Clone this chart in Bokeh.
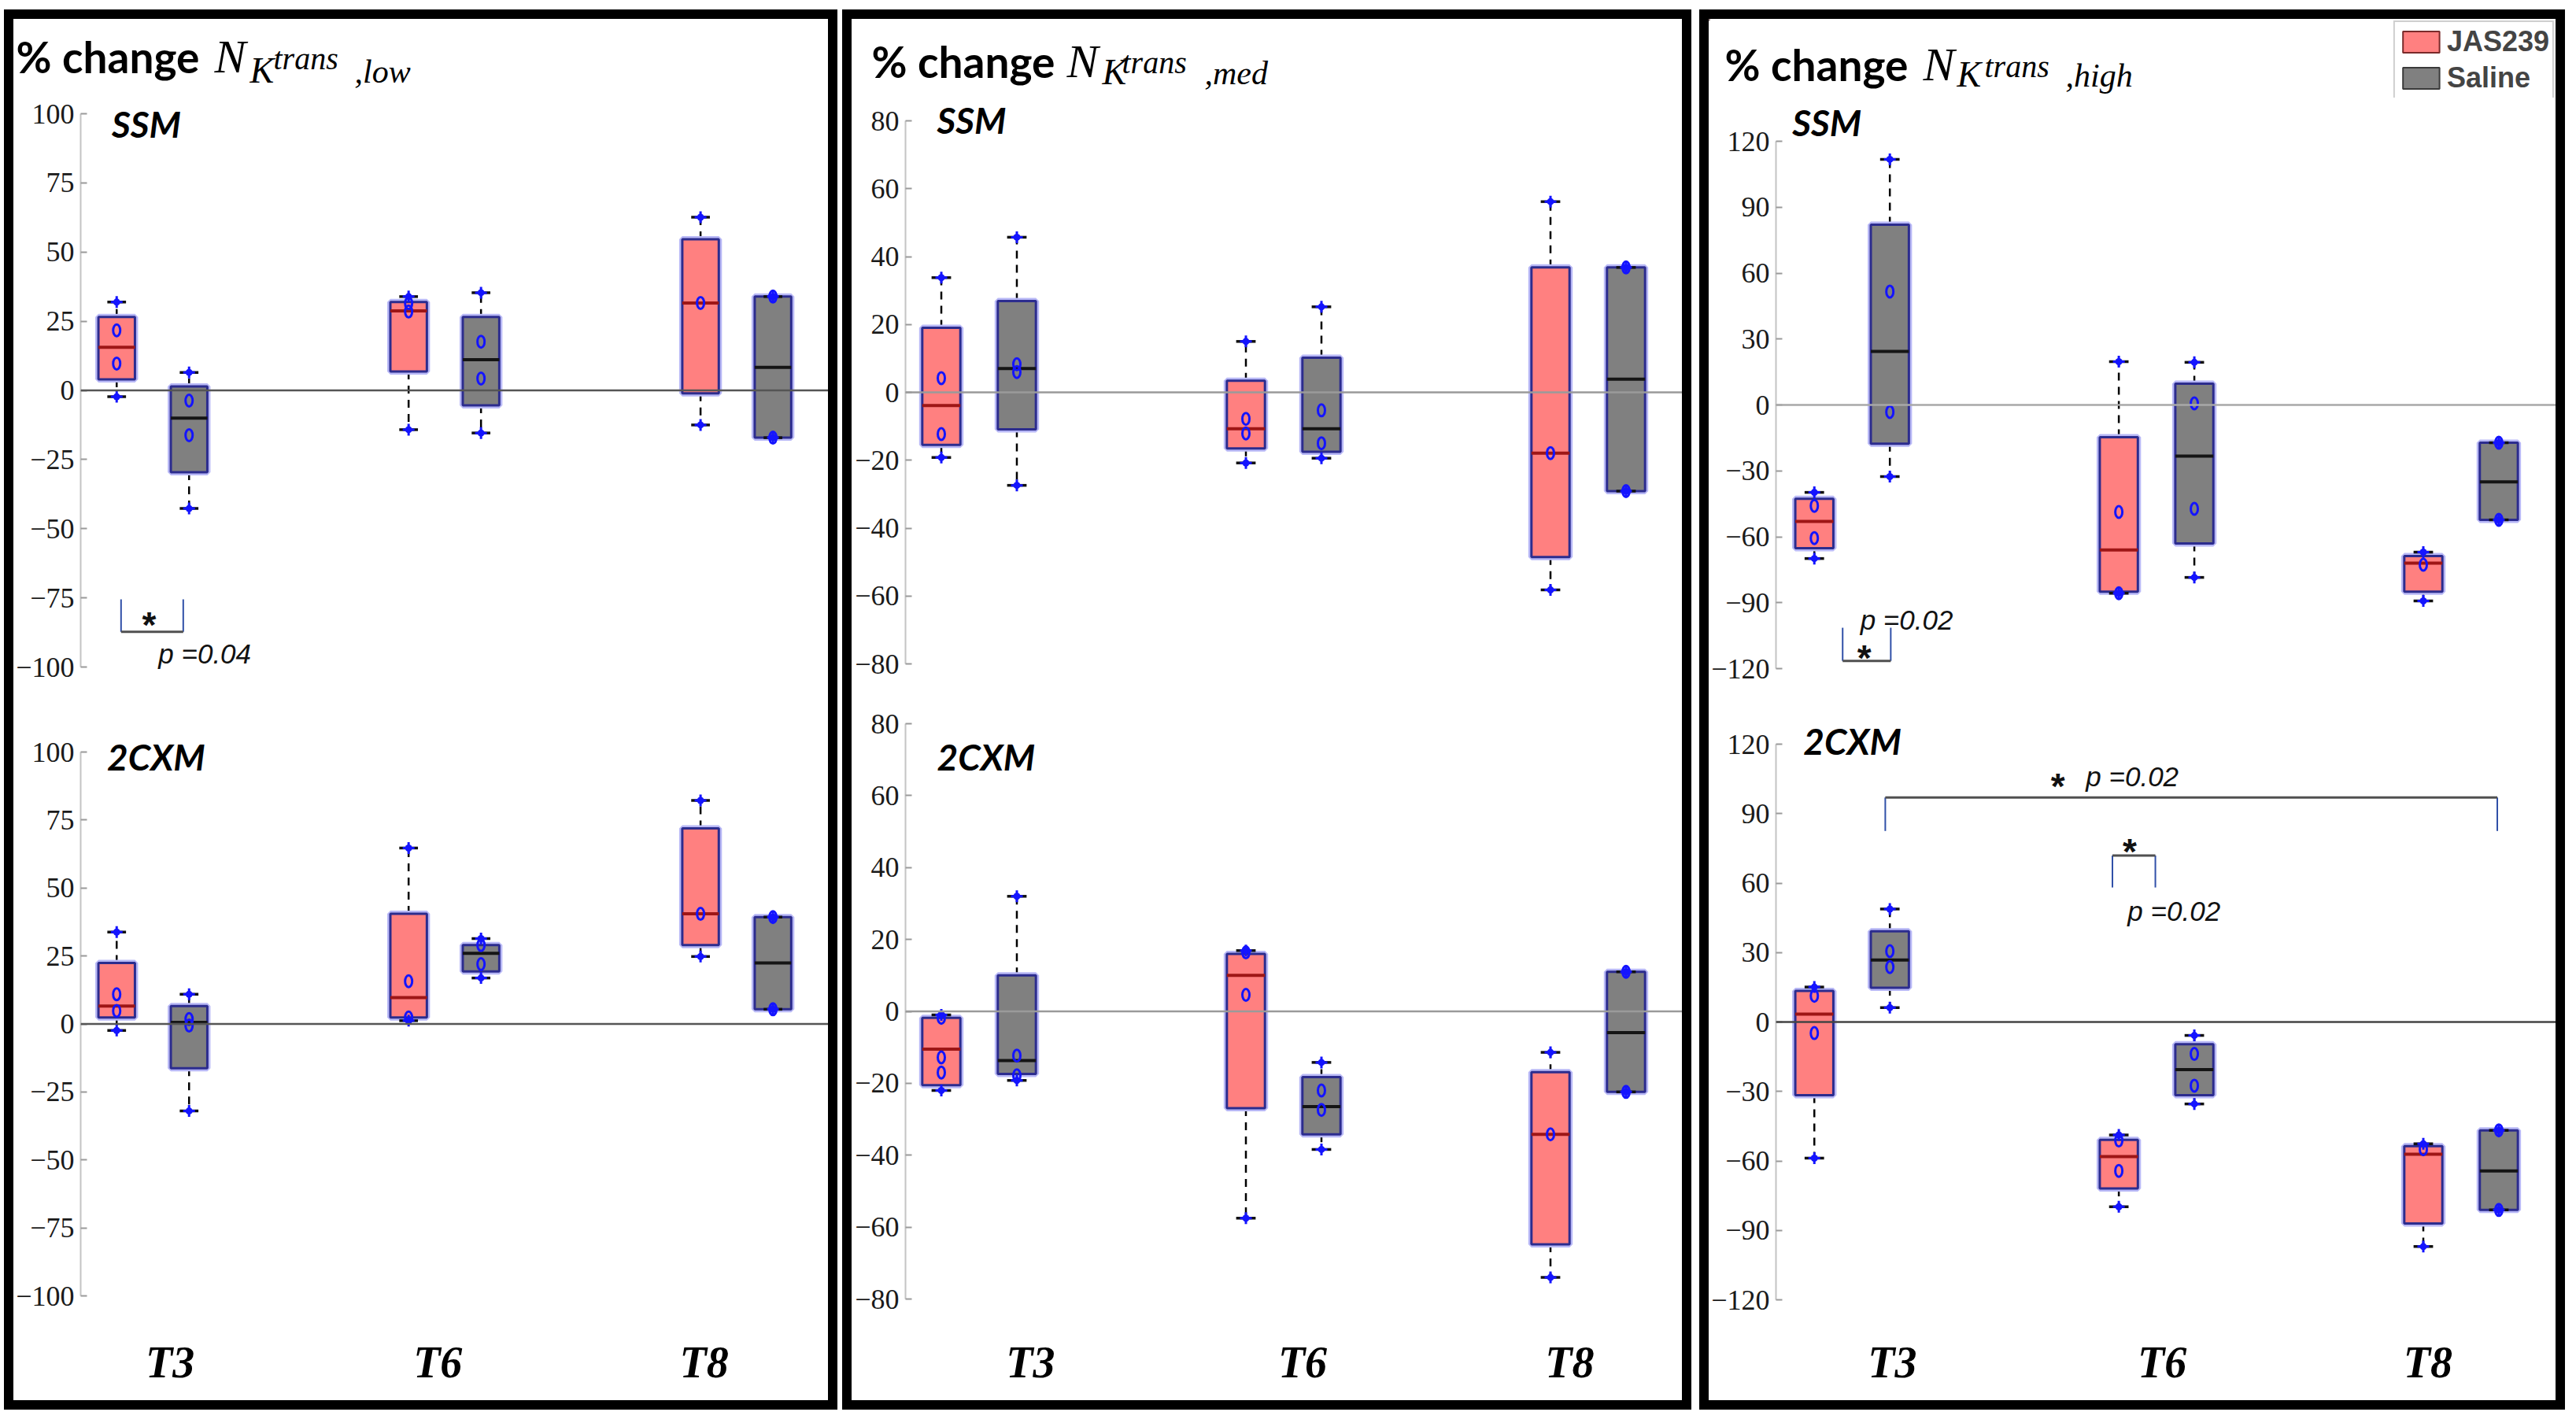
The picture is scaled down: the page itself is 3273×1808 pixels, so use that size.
from bokeh.plotting import figure
from bokeh.models import (Range1d, FixedTicker, Span, Label, Legend, LegendItem,
                          ColumnDataSource, Spacer)
from bokeh.layouts import column, row
from bokeh.embed import file_html
from bokeh.resources import INLINE

# ---------------------------------------------------------------- data
timepoints = ["T3", "T6", "T8"]
treatments = ["JAS239", "Saline"]
# each box: (min, q1, median, q3, max); order T3-JAS, T3-Sal, T6-JAS, T6-Sal, T8-JAS, T8-Sal
low_ssm_box = [(-2.3, 4.0, 15.6, 26.5, 31.9), (-42.7, -29.6, -10.0, 1.4, 6.5),
               (-14.2, 6.8, 28.7, 31.9, 33.9), (-15.4, -5.4, 11.1, 26.5, 35.3),
               (-12.5, -1.1, 31.6, 54.6, 62.6), (-17.1, -17.1, 8.3, 33.9, 33.9)]
low_ssm_pts = [[21.7, 9.7], [-3.7, -16.2], [31.5, 28.5], [17.6, 4.3], [31.6], [33.9, -17.1]]

low_2cxm_box = [(-2.4, 2.4, 6.6, 22.4, 33.8), (-32.0, -16.3, 0.6, 6.6, 10.9),
                (1.2, 2.4, 9.7, 40.5, 64.7), (16.9, 19.3, 26.0, 29.0, 31.4),
                (24.8, 29.0, 40.5, 71.9, 82.2), (5.4, 5.4, 22.4, 39.3, 39.3)]
low_2cxm_pts = [[10.9, 4.8], [1.8, -0.6], [15.7, 2.4], [29.0, 22.0], [40.5], [39.3, 5.4]]

med_ssm_box = [(-19.2, -15.5, -3.9, 19.0, 33.8), (-27.4, -10.9, 7.0, 26.9, 45.7),
               (-20.8, -16.5, -10.7, 3.4, 15.0), (-19.4, -17.5, -10.7, 10.2, 25.2),
               (-58.2, -48.5, -17.9, 36.8, 56.2), (-29.1, -29.1, 3.9, 36.8, 36.8)]
med_ssm_pts = [[4.2, -12.3], [8.3, 6.0], [-7.8, -12.1], [-5.3, -15.0], [-17.9], [36.8, -29.1]]

med_2cxm_box = [(-22.0, -20.5, -10.5, -1.8, -1.0), (-19.2, -17.4, -13.7, 10.0, 32.0),
                (-57.5, -26.9, 10.0, 16.0, 16.9), (-38.4, -34.2, -26.5, -18.3, -14.2),
                (-74.0, -64.8, -34.2, -16.9, -11.4), (-22.4, -22.4, -5.9, 11.0, 11.0)]
med_2cxm_pts = [[-1.8, -12.8, -17.0], [-12.3, -17.8], [16.4, 4.6], [-22.0, -27.4], [-34.2], [11.0, -22.4]]

high_ssm_box = [(-69.9, -65.2, -53.0, -42.7, -39.8), (-32.6, -17.6, 24.4, 82.0, 111.8),
                (-85.7, -85.0, -66.0, -14.7, 19.7), (-78.5, -63.0, -23.3, 9.7, 19.4),
                (-89.2, -85.0, -72.0, -68.8, -67.0), (-52.3, -52.3, -35.0, -17.2, -17.2)]
high_ssm_pts = [[-45.9, -60.6], [51.6, -3.2], [-48.7, -85.7], [0.7, -47.3], [-72.7], [-17.2, -52.3]]

high_2cxm_box = [(-58.8, -31.6, 3.4, 13.4, 15.1), (6.2, 14.8, 26.8, 39.2, 48.8),
                 (-79.8, -71.9, -58.1, -50.9, -48.8), (-35.4, -31.6, -20.6, -9.6, -5.8),
                 (-97.0, -87.0, -57.1, -53.6, -52.6), (-81.2, -81.2, -64.3, -46.8, -46.8)]
high_2cxm_pts = [[11.3, -4.8], [30.6, 23.7], [-51.2, -64.3], [-13.8, -27.5], [-55.0], [-46.8, -81.2]]

low_ticks = [-100, -75, -50, -25, 0, 25, 50, 75, 100]
med_ticks = [-80, -60, -40, -20, 0, 20, 40, 60, 80]
high_ticks = [-120, -90, -60, -30, 0, 30, 60, 90, 120]

# significance annotations: (x_left, x_right, y_bar, y_tip, star_x, star_y, p_x, p_y, text)
low_ssm_sig = [(-0.109, 0.104, -87.3, -75.5, -0.013, -84.8, 0.019, -95.3, "p =0.04")]
high_ssm_sig = [(-0.031, 0.127, -116.5, -101.4, 0.040, -115.1, 0.027, -97.8, "p =0.02")]
high_2cxm_sig = [(0.109, 2.119, 97.0, 82.5, 0.676, 101.9, 0.768, 106.0, "p =0.02"),
                 (0.855, 0.996, 71.9, 58.1, 0.912, 73.6, 0.905, 48.0, "p =0.02")]

# ---------------------------------------------------------------- style
JAS_FILL = "#FF8080"
SAL_FILL = "#808080"
JAS_MED = "#9E1616"
SAL_MED = "#151515"
BOX_LINE = "#2C2C8E"
HALO = "#B8B8F6"
PT_BLUE = "#1414FF"
OFF = 0.124      # half distance between the two boxes of a time point
BW = 0.125       # box width
CAPW = 0.032     # half cap width

TICK_FONT = "Liberation Sans Narrow"
LAB_FONT = "Lato"
SER_FONT = "Liberation Serif"
MID = {LAB_FONT: 0.32, SER_FONT: 0.30}   # em-box middle above the baseline

PANEL_TOP = 25      # inner top of every panel (page px)
PANEL_BOTTOM = 1780
BOT_PAD = 100       # room for time-point labels


def mid_of(baseline, font, size):
    return baseline - MID[font] * size


def sub_figure(W, axis_left, x_range, canvas_top, H, pad_bottom, v_top, py_top, v_bot, py_bot,
               ticks, boxes, pts, zero_color, xlabels=None, xlabel_pos=None):
    frame_top = canvas_top
    frame_bot = canvas_top + H - pad_bottom
    k = (py_bot - py_top) / (v_top - v_bot)
    hi = v_top + (py_top - frame_top) / k
    lo = v_bot - (frame_bot - py_bot) / k
    p = figure(width=W, height=H, output_backend="svg", toolbar_location=None,
               x_range=Range1d(*x_range), y_range=Range1d(lo, hi),
               x_axis_location="below" if xlabels else None, y_axis_location="left",
               min_border_left=axis_left, min_border_right=0, min_border_top=0,
               min_border_bottom=pad_bottom, outline_line_color=None,
               background_fill_color="white", border_fill_color="white")
    p.grid.visible = False
    ya = p.yaxis[0]
    ya.ticker = FixedTicker(ticks=ticks)
    ya.bounds = (v_bot, v_top)
    ya.axis_line_color = "#c4c4c4"
    ya.axis_line_width = 2
    ya.major_tick_in = 8
    ya.major_tick_out = 0
    ya.major_tick_line_color = "#9a9a9a"
    ya.major_tick_line_width = 2
    ya.minor_tick_line_color = None
    ya.major_label_standoff = 8
    ya.major_label_text_font = TICK_FONT
    ya.major_label_text_font_size = "36px"
    ya.major_label_text_color = "#1a1a1a"
    if xlabels:
        xa = p.xaxis[0]
        xa.ticker = FixedTicker(ticks=xlabel_pos)
        xa.major_label_overrides = {pos: lab for pos, lab in zip(xlabel_pos, xlabels)}
        xa.axis_line_color = None
        xa.major_tick_line_color = None
        xa.minor_tick_line_color = None
        xa.major_label_standoff = 14
        xa.major_label_text_font = SER_FONT
        xa.major_label_text_font_style = "bold italic"
        xa.major_label_text_font_size = "56px"
        xa.major_label_text_color = "black"

    xs, fills, meds = [], [], []
    for i in range(len(boxes)):
        g, t = divmod(i, 2)
        xs.append(g + (-OFF if t == 0 else OFF))
        fills.append(JAS_FILL if t == 0 else SAL_FILL)
        meds.append(JAS_MED if t == 0 else SAL_MED)
    src = ColumnDataSource(dict(
        x=xs, lw=[b[0] for b in boxes], q1=[b[1] for b in boxes], med=[b[2] for b in boxes],
        q3=[b[3] for b in boxes], uw=[b[4] for b in boxes], fill=fills, medc=meds,
        xl=[x - BW / 2 for x in xs], xr=[x + BW / 2 for x in xs],
        cl=[x - CAPW for x in xs], cr=[x + CAPW for x in xs]))
    p.segment(x0="x", y0="q3", x1="x", y1="uw", source=src, line_color="black",
              line_width=2.5, line_dash="10 8")
    p.segment(x0="x", y0="q1", x1="x", y1="lw", source=src, line_color="black",
              line_width=2.5, line_dash="10 8")
    p.vbar(x="x", width=BW, top="q3", bottom="q1", source=src, fill_color=None,
           line_color=HALO, line_width=8)
    p.vbar(x="x", width=BW, top="q3", bottom="q1", source=src, fill_color="fill",
           line_color=BOX_LINE, line_width=3)
    p.segment(x0="xl", y0="med", x1="xr", y1="med", source=src, line_color="medc", line_width=4)
    for key in ("uw", "lw"):
        p.segment(x0="cl", y0=key, x1="cr", y1=key, source=src, line_color="#111111", line_width=3.5)
        p.scatter(x="x", y=key, source=src, marker="cross", size=15, line_color=PT_BLUE, line_width=3)
        p.scatter(x="x", y=key, source=src, marker="circle", size=9, fill_color=PT_BLUE,
                  line_color=None)
    px_, py_ = [], []
    for x, ps in zip(xs, pts):
        for v in ps:
            px_.append(x)
            py_.append(v)
    p.ellipse(x=px_, y=py_, width=9, height=15, width_units="screen", height_units="screen",
              fill_color=None, line_color=PT_BLUE, line_width=3)
    p.add_layout(Span(location=0, dimension="width", line_color=zero_color, line_width=2.5))
    return p, (frame_top, hi, k)


def add_sig(p, sigs):
    for (xl, xr, yb, yt, sx, sy, tx, ty, txt) in sigs:
        p.segment(x0=[xl, xr], y0=[yt, yt], x1=[xl, xr], y1=[yb, yb], line_color="#3050A8",
                  line_width=2)
        p.segment(x0=[xl], y0=[yb], x1=[xr], y1=[yb], line_color="#505050", line_width=3)
        p.add_layout(Label(x=sx, y=sy, text="*", text_font="Liberation Sans",
                           text_font_style="bold", text_font_size="46px", text_align="center",
                           text_baseline="middle", text_color="#111111"))
        p.add_layout(Label(x=tx, y=ty, text=txt, text_font="Liberation Sans",
                           text_font_style="italic", text_font_size="35px", text_align="left",
                           text_baseline="middle", text_color="#111111"))


def page_to_data(px, py, g0, spacing, ymap):
    frame_top, hi, k = ymap
    return (px - g0) / spacing, hi - (py - frame_top) / k


def title_figure(inner_left, W, H, parts, legend=False):
    # page-pixel coordinates inside the title strip (y grows downward)
    p = figure(width=W, height=H, output_backend="svg", toolbar_location=None,
               x_range=Range1d(inner_left, inner_left + W),
               y_range=Range1d(PANEL_TOP + H, PANEL_TOP),
               x_axis_location=None, y_axis_location=None,
               min_border_left=0, min_border_right=0, min_border_top=0, min_border_bottom=0,
               outline_line_color=None, background_fill_color="white",
               border_fill_color="white")
    p.grid.visible = False
    for (txt, px, base, font, style, size) in parts:
        p.add_layout(Label(x=px, y=mid_of(base, font, size), text=txt, text_font=font,
                           text_font_style=style, text_font_size=f"{size}px", text_align="left",
                           text_baseline="middle", text_color="black"))
    if legend:
        far = inner_left - 5000   # legend-only renderers, outside the strip
        r_j = p.vbar(x=[far], top=[PANEL_TOP], bottom=[PANEL_TOP + 1], width=1,
                     fill_color=JAS_FILL, line_color="#7a2a2a", line_width=2)
        r_s = p.vbar(x=[far], top=[PANEL_TOP], bottom=[PANEL_TOP + 1], width=1,
                     fill_color=SAL_FILL, line_color="#3a3a3a", line_width=2)
        lg = Legend(items=[LegendItem(label=treatments[0], renderers=[r_j]),
                           LegendItem(label=treatments[1], renderers=[r_s])],
                    location="top_right", margin=2, padding=4, spacing=4,
                    label_text_font="Liberation Sans", label_text_font_style="bold",
                    label_text_font_size="36px", label_height=36, label_standoff=4,
                    glyph_width=58, glyph_height=34, border_line_color="#a0a0a0",
                    border_line_width=2, background_fill_color="white", background_fill_alpha=1)
        p.add_layout(lg)
    return p


def build_panel(inner_left, W, axis_x, g0, spacing, title_h, split, top_cal, bot_cal, ticks,
                top_boxes, top_pts, bot_boxes, bot_pts, zero_top, zero_bot,
                xlabel_pos, title_parts, ssm_pos, cxm_pos, legend=False):
    axis_left = axis_x - inner_left
    xr = ((axis_x - g0) / spacing, (inner_left + W - g0) / spacing)
    ptitle = title_figure(inner_left, W, title_h, title_parts, legend)
    t_top = PANEL_TOP + title_h
    pt, ymap_t = sub_figure(W, axis_left, xr, t_top, split - t_top, 0,
                            top_cal[0], top_cal[1], top_cal[2], top_cal[3],
                            ticks, top_boxes, top_pts, zero_top)
    pb, ymap_b = sub_figure(W, axis_left, xr, split, PANEL_BOTTOM - split, BOT_PAD,
                            bot_cal[0], bot_cal[1], bot_cal[2], bot_cal[3],
                            ticks, bot_boxes, bot_pts, zero_bot,
                            xlabels=timepoints, xlabel_pos=xlabel_pos)
    x, y = page_to_data(ssm_pos[0], mid_of(ssm_pos[1], LAB_FONT, 46), g0, spacing, ymap_t)
    pt.add_layout(Label(x=x, y=y, text="SSM", text_font=LAB_FONT, text_font_style="bold italic",
                        text_font_size="46px", text_baseline="middle", text_color="black"))
    x, y = page_to_data(cxm_pos[0], mid_of(cxm_pos[1], LAB_FONT, 46), g0, spacing, ymap_b)
    pb.add_layout(Label(x=x, y=y, text="2CXM", text_font=LAB_FONT, text_font_style="bold italic",
                        text_font_size="46px", text_baseline="middle", text_color="black"))
    # the title strip sits in its own row so that its frame is not aligned to the axes
    return column(row(ptitle, spacing=0), pt, pb, spacing=0,
                  styles={"border": "12px solid black", "box-sizing": "content-box"}), pt, pb


def titles(x0, base, sub_base, sup_base, x_n, x_k, x_t, x_s, suffix):
    return [("% change", x0, base, LAB_FONT, "bold", 55),
            ("N", x_n, base, SER_FONT, "italic", 60),
            ("K", x_k, sub_base, SER_FONT, "italic", 46),
            ("trans", x_t, sup_base, SER_FONT, "italic", 40),
            ("," + suffix, x_s, sub_base, SER_FONT, "italic", 42)]


c1, p1t, p1b = build_panel(25, 1035, 97, 190, 376, 98, 902, (100, 145, -100, 848),
                           (100, 956, -100, 1647),
                           low_ticks, low_ssm_box, low_ssm_pts, low_2cxm_box, low_2cxm_pts,
                           "#555555", "#555555", [0.059, 0.976, 1.888],
                           titles(28, 90, 104, 87, 280, 325, 355, 458, "low"),
                           (137, 173), (131, 977))
c2, p2t, p2b = build_panel(1090, 1055, 1158, 1251.5, 387, 97, 882, (80, 154, -80, 844),
                           (80, 920, -80, 1651),
                           med_ticks, med_ssm_box, med_ssm_pts, med_2cxm_box, med_2cxm_pts,
                           "#9a9a9a", "#9a9a9a", [0.169, 1.062, 1.939],
                           titles(1115, 96, 106, 92, 1363, 1408, 1433, 1538, "med"),
                           (1198, 168), (1198, 977))
c3, p3t, p3b = build_panel(2179, 1076, 2256, 2353.5, 390, 100, 898, (120, 180, -120, 850),
                           (120, 946, -120, 1652),
                           high_ticks, high_ssm_box, high_ssm_pts, high_2cxm_box, high_2cxm_pts,
                           "#a8a8a8", "#444444", [0.132, 1.018, 1.891],
                           titles(2199, 100, 109, 97, 2451, 2494, 2529, 2632, "high"),
                           (2277, 171), (2291, 957), legend=True)

add_sig(p1t, low_ssm_sig)
add_sig(p3t, high_ssm_sig)
add_sig(p3b, high_2cxm_sig)

layout = column(Spacer(height=12, width=10),
                row(Spacer(width=5, height=10), c1, Spacer(width=6, height=10), c2,
                    Spacer(width=10, height=10), c3, spacing=0),
                spacing=0)

open("out.html", "w").write(file_html(layout, INLINE))
